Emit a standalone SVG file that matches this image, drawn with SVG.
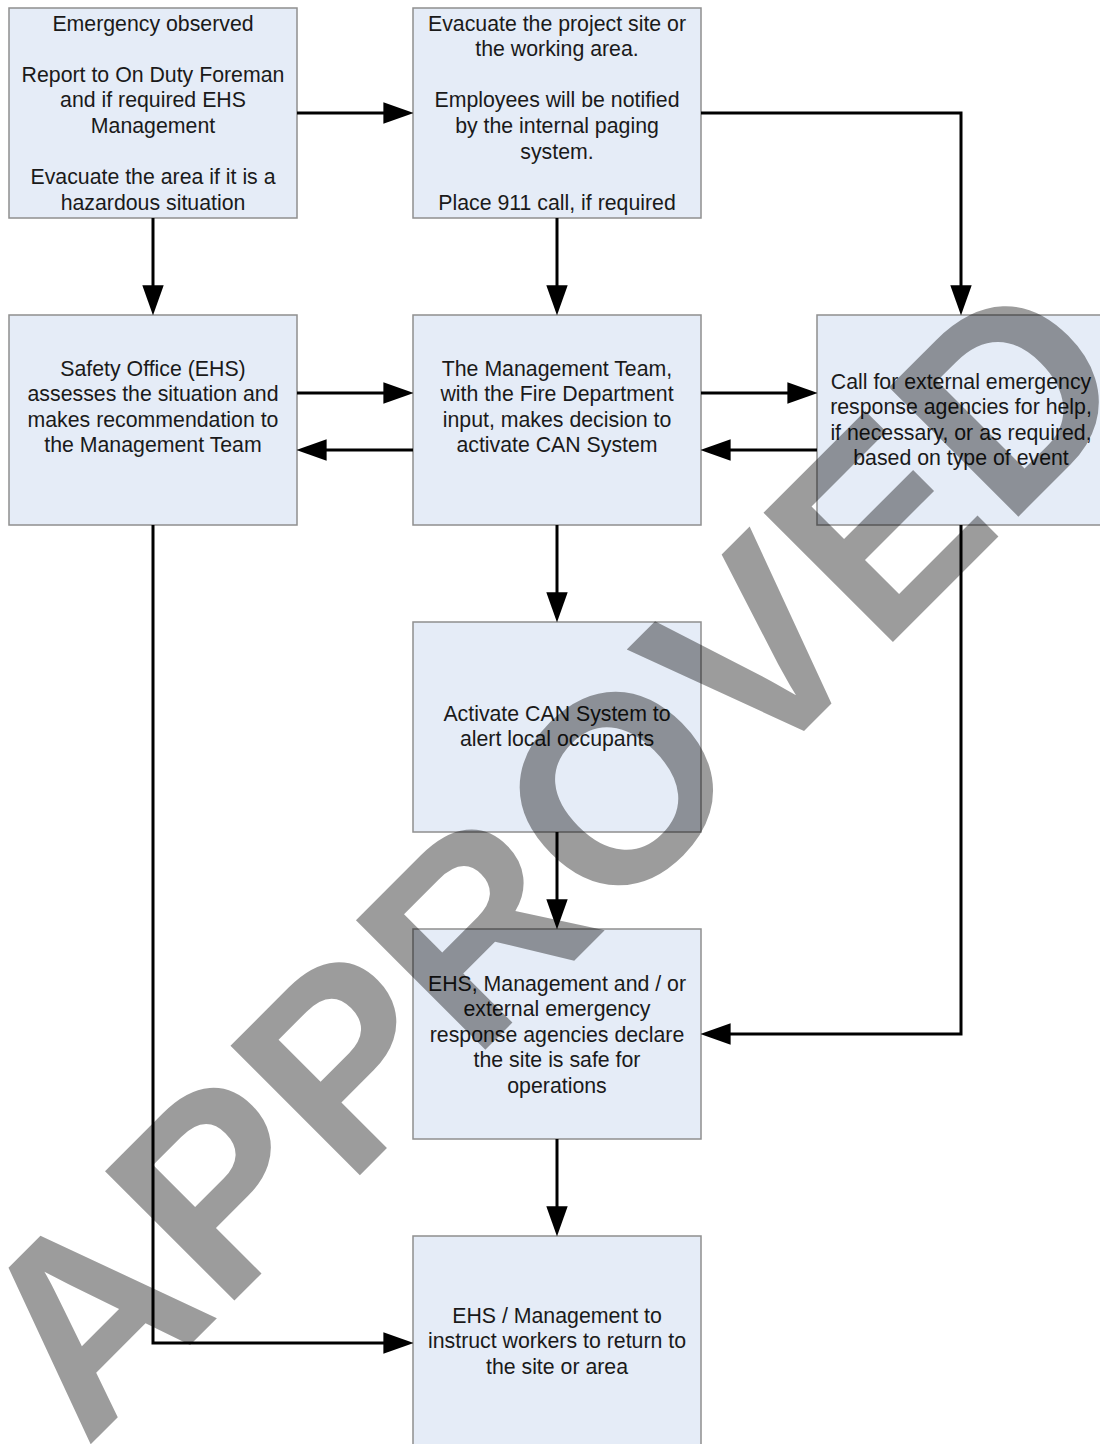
<svg xmlns="http://www.w3.org/2000/svg" width="1100" height="1444" viewBox="0 0 1100 1444">
<defs>
<style>
.box{fill:#e5ecf7;stroke:#8f8f8f;stroke-width:1.5}
.t{font-family:"Liberation Sans",Arial,sans-serif;font-size:21.3px;fill:#1a1a1a;text-anchor:middle}
.c{fill:none;stroke:#000;stroke-width:3;marker-end:url(#ah)}
.wm{font-family:"Liberation Sans",Arial,sans-serif;font-weight:bold;font-size:266px;fill:#000;fill-opacity:0.39}
</style>
<marker id="ah" markerUnits="userSpaceOnUse" markerWidth="30" markerHeight="22" refX="23" refY="10" orient="auto" viewBox="0 0 28 20">
<path d="M0,0 L28,10 L0,20 z" fill="#000"/>
</marker>
</defs>
<rect width="1100" height="1444" fill="#fff"/>
<g id="n1"><rect class="box" x="9" y="8" width="288" height="210"/>
<text class="t"><tspan x="153" y="30.5">Emergency observed</tspan><tspan x="153" y="81.7">Report to On Duty Foreman</tspan><tspan x="153" y="107.3">and if required EHS</tspan><tspan x="153" y="132.9">Management</tspan><tspan x="153" y="184.1">Evacuate the area if it is a</tspan><tspan x="153" y="209.7">hazardous situation</tspan></text></g>
<g id="n2"><rect class="box" x="413" y="8" width="288" height="210"/>
<text class="t"><tspan x="557" y="30.5">Evacuate the project site or</tspan><tspan x="557" y="56.1">the working area.</tspan><tspan x="557" y="107.3">Employees will be notified</tspan><tspan x="557" y="132.9">by the internal paging</tspan><tspan x="557" y="158.5">system.</tspan><tspan x="557" y="209.7">Place 911 call, if required</tspan></text></g>
<g id="n3"><rect class="box" x="9" y="315" width="288" height="210"/>
<text class="t"><tspan x="153" y="375.5">Safety Office (EHS)</tspan><tspan x="153" y="401.1">assesses the situation and</tspan><tspan x="153" y="426.7">makes recommendation to</tspan><tspan x="153" y="452.3">the Management Team</tspan></text></g>
<g id="n4"><rect class="box" x="413" y="315" width="288" height="210"/>
<text class="t"><tspan x="557" y="375.5">The Management Team,</tspan><tspan x="557" y="401.1">with the Fire Department</tspan><tspan x="557" y="426.7">input, makes decision to</tspan><tspan x="557" y="452.3">activate CAN System</tspan></text></g>
<g id="n5"><rect class="box" x="817" y="315" width="288" height="210"/>
<text class="t"><tspan x="961" y="388.5">Call for external emergency</tspan><tspan x="961" y="414.1">response agencies for help,</tspan><tspan x="961" y="439.7">if necessary, or as required,</tspan><tspan x="961" y="465.3">based on type of event</tspan></text></g>
<g id="n6"><rect class="box" x="413" y="622" width="288" height="210"/>
<text class="t"><tspan x="557" y="720.5">Activate CAN System to</tspan><tspan x="557" y="746.1">alert local occupants</tspan></text></g>
<g id="n7"><rect class="box" x="413" y="929" width="288" height="210"/>
<text class="t"><tspan x="557" y="990.5">EHS, Management and / or</tspan><tspan x="557" y="1016.1">external emergency</tspan><tspan x="557" y="1041.7">response agencies declare</tspan><tspan x="557" y="1067.3">the site is safe for</tspan><tspan x="557" y="1092.9">operations</tspan></text></g>
<g id="n8"><rect class="box" x="413" y="1236" width="288" height="210"/>
<text class="t"><tspan x="557" y="1322.5">EHS / Management to</tspan><tspan x="557" y="1348.1">instruct workers to return to</tspan><tspan x="557" y="1373.7">the site or area</tspan></text></g>
<g id="connectors">
<path class="c" d="M297,113 H408"/>
<path class="c" d="M701,113 H961 V310"/>
<path class="c" d="M153,218 V310"/>
<path class="c" d="M557,218 V310"/>
<path class="c" d="M297,393 H408"/>
<path class="c" d="M413,450 H302"/>
<path class="c" d="M701,393 H812"/>
<path class="c" d="M817,450 H706"/>
<path class="c" d="M557,525 V617"/>
<path class="c" d="M557,832 V924"/>
<path class="c" d="M961,525 V1034 H706"/>
<path class="c" d="M557,1139 V1231"/>
<path class="c" d="M153,525 V1343 H408"/>
</g>
<g id="watermark"><text class="wm" transform="translate(86,1449) rotate(-45)" x="0" y="0">APPROVED</text></g>
</svg>
